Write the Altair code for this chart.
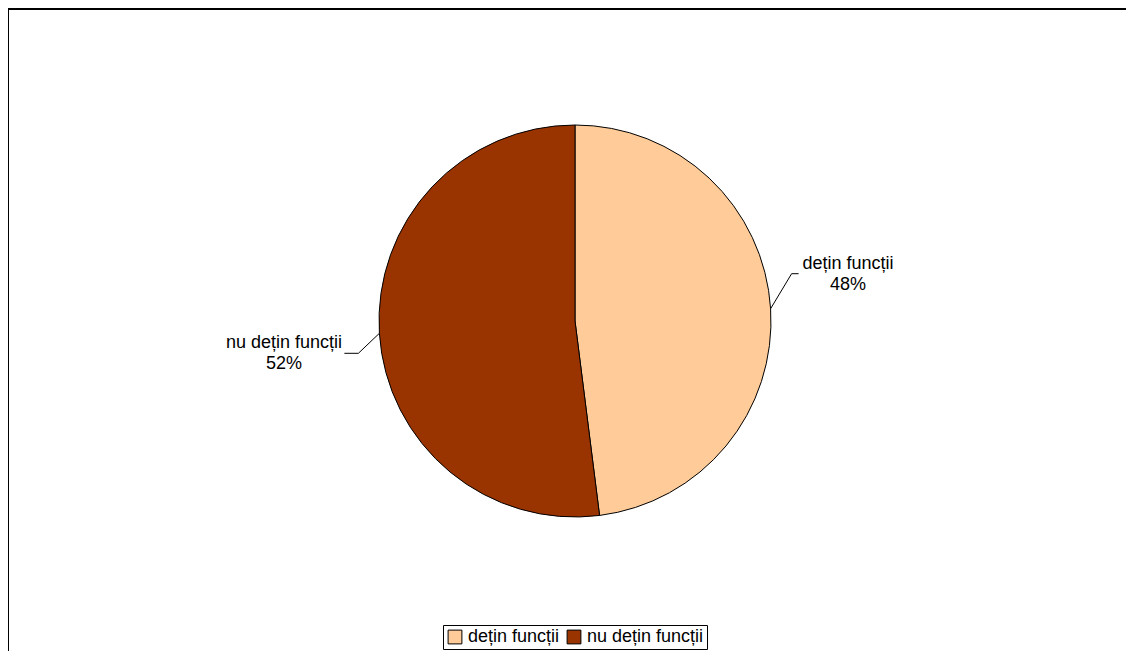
import altair as alt
import pandas as pd

# ---- data ----
categories = ["dețin funcții", "nu dețin funcții"]
values = [48, 52]
order = [0, 1]
colors = ["#FFCC99", "#993300"]

df = pd.DataFrame({"cat": categories, "val": values, "ord": order})

# ---- layout constants ----
W, H = 1118, 643
CX, CY, R = 567, 313, 196
FONT = "Liberation Sans"

color = alt.Color(
    "cat:N",
    scale=alt.Scale(domain=categories, range=colors),
    sort=categories,
    legend=alt.Legend(
        title=None,
        orient="none",
        legendX=435,
        legendY=617,
        direction="horizontal",
        symbolType="square",
        symbolSize=190,
        symbolStrokeColor="black",
        symbolStrokeWidth=1,
        symbolOpacity=1,
        labelFont=FONT,
        labelFontSize=18,
        labelColor="black",
        labelOffset=4,
        columnPadding=5,
        padding=3,
        strokeColor="black",
        fillColor="white",
    ),
)

pie = alt.Chart(df).mark_arc(radius=R, stroke="black", strokeWidth=1).encode(
    theta=alt.Theta("val:Q", stack=True),
    color=color,
    order=alt.Order("ord:Q"),
    x=alt.value(CX),
    y=alt.value(CY),
)

geo = (
    alt.Chart(df)
    .transform_joinaggregate(total="sum(val)")
    .transform_window(cum="sum(val)", sort=[alt.SortField("ord")], frame=[None, 0])
    .transform_calculate(
        mid="(datum.cum - datum.val / 2) / datum.total * 2 * PI",
    )
    .transform_calculate(
        side="sin(datum.mid) >= 0 ? 1 : -1",
        ex=f"{CX} + {R} * sin(datum.mid)",
        ey=f"{CY} - {R} * cos(datum.mid)",
    )
    .transform_calculate(
        bx="datum.ex + datum.side * 21",
        by="datum.ey + (datum.side > 0 ? -35 : 20)",
    )
    .transform_calculate(
        tx="datum.bx + datum.side * (datum.side > 0 ? 7 : 14)",
    )
    .transform_calculate(
        lx="datum.tx + datum.side * (2 + length(datum.cat) * 7.3 / 2)",
        ly1="datum.by - 10",
        ly2="datum.by + 11",
        pct="format(datum.val / datum.total, '.0%')",
    )
)

lead1 = geo.mark_rule(color="black", strokeWidth=1).encode(
    x=alt.X("ex:Q", scale=None, axis=None),
    y=alt.Y("ey:Q", scale=None, axis=None),
    x2="bx:Q",
    y2="by:Q",
)
lead2 = geo.mark_rule(color="black", strokeWidth=1).encode(
    x=alt.X("bx:Q", scale=None, axis=None),
    y=alt.Y("by:Q", scale=None, axis=None),
    x2="tx:Q",
    y2="by:Q",
)
lab1 = geo.mark_text(align="center", baseline="middle", font=FONT, fontSize=18, color="black").encode(
    x=alt.X("lx:Q", scale=None, axis=None),
    y=alt.Y("ly1:Q", scale=None, axis=None),
    text="cat:N",
)
lab2 = geo.mark_text(align="center", baseline="middle", font=FONT, fontSize=18, color="black").encode(
    x=alt.X("lx:Q", scale=None, axis=None),
    y=alt.Y("ly2:Q", scale=None, axis=None),
    text="pct:N",
)

one = pd.DataFrame({"z": [0]})
border_top = alt.Chart(one).mark_rule(color="black", strokeWidth=2).encode(
    x=alt.value(0), x2=alt.value(W), y=alt.value(1)
)
border_left = alt.Chart(one).mark_rule(color="black", strokeWidth=2).encode(
    x=alt.value(0), y=alt.value(0), y2=alt.value(H)
)

chart = (
    alt.layer(border_top, border_left, pie, lead1, lead2, lab1, lab2)
    .properties(width=W, height=H, autosize=alt.AutoSizeParams(type="none"), padding=0)
    .configure_view(stroke=None)
)

chart.save("out.html", embed_options={"renderer": "svg", "actions": False})
